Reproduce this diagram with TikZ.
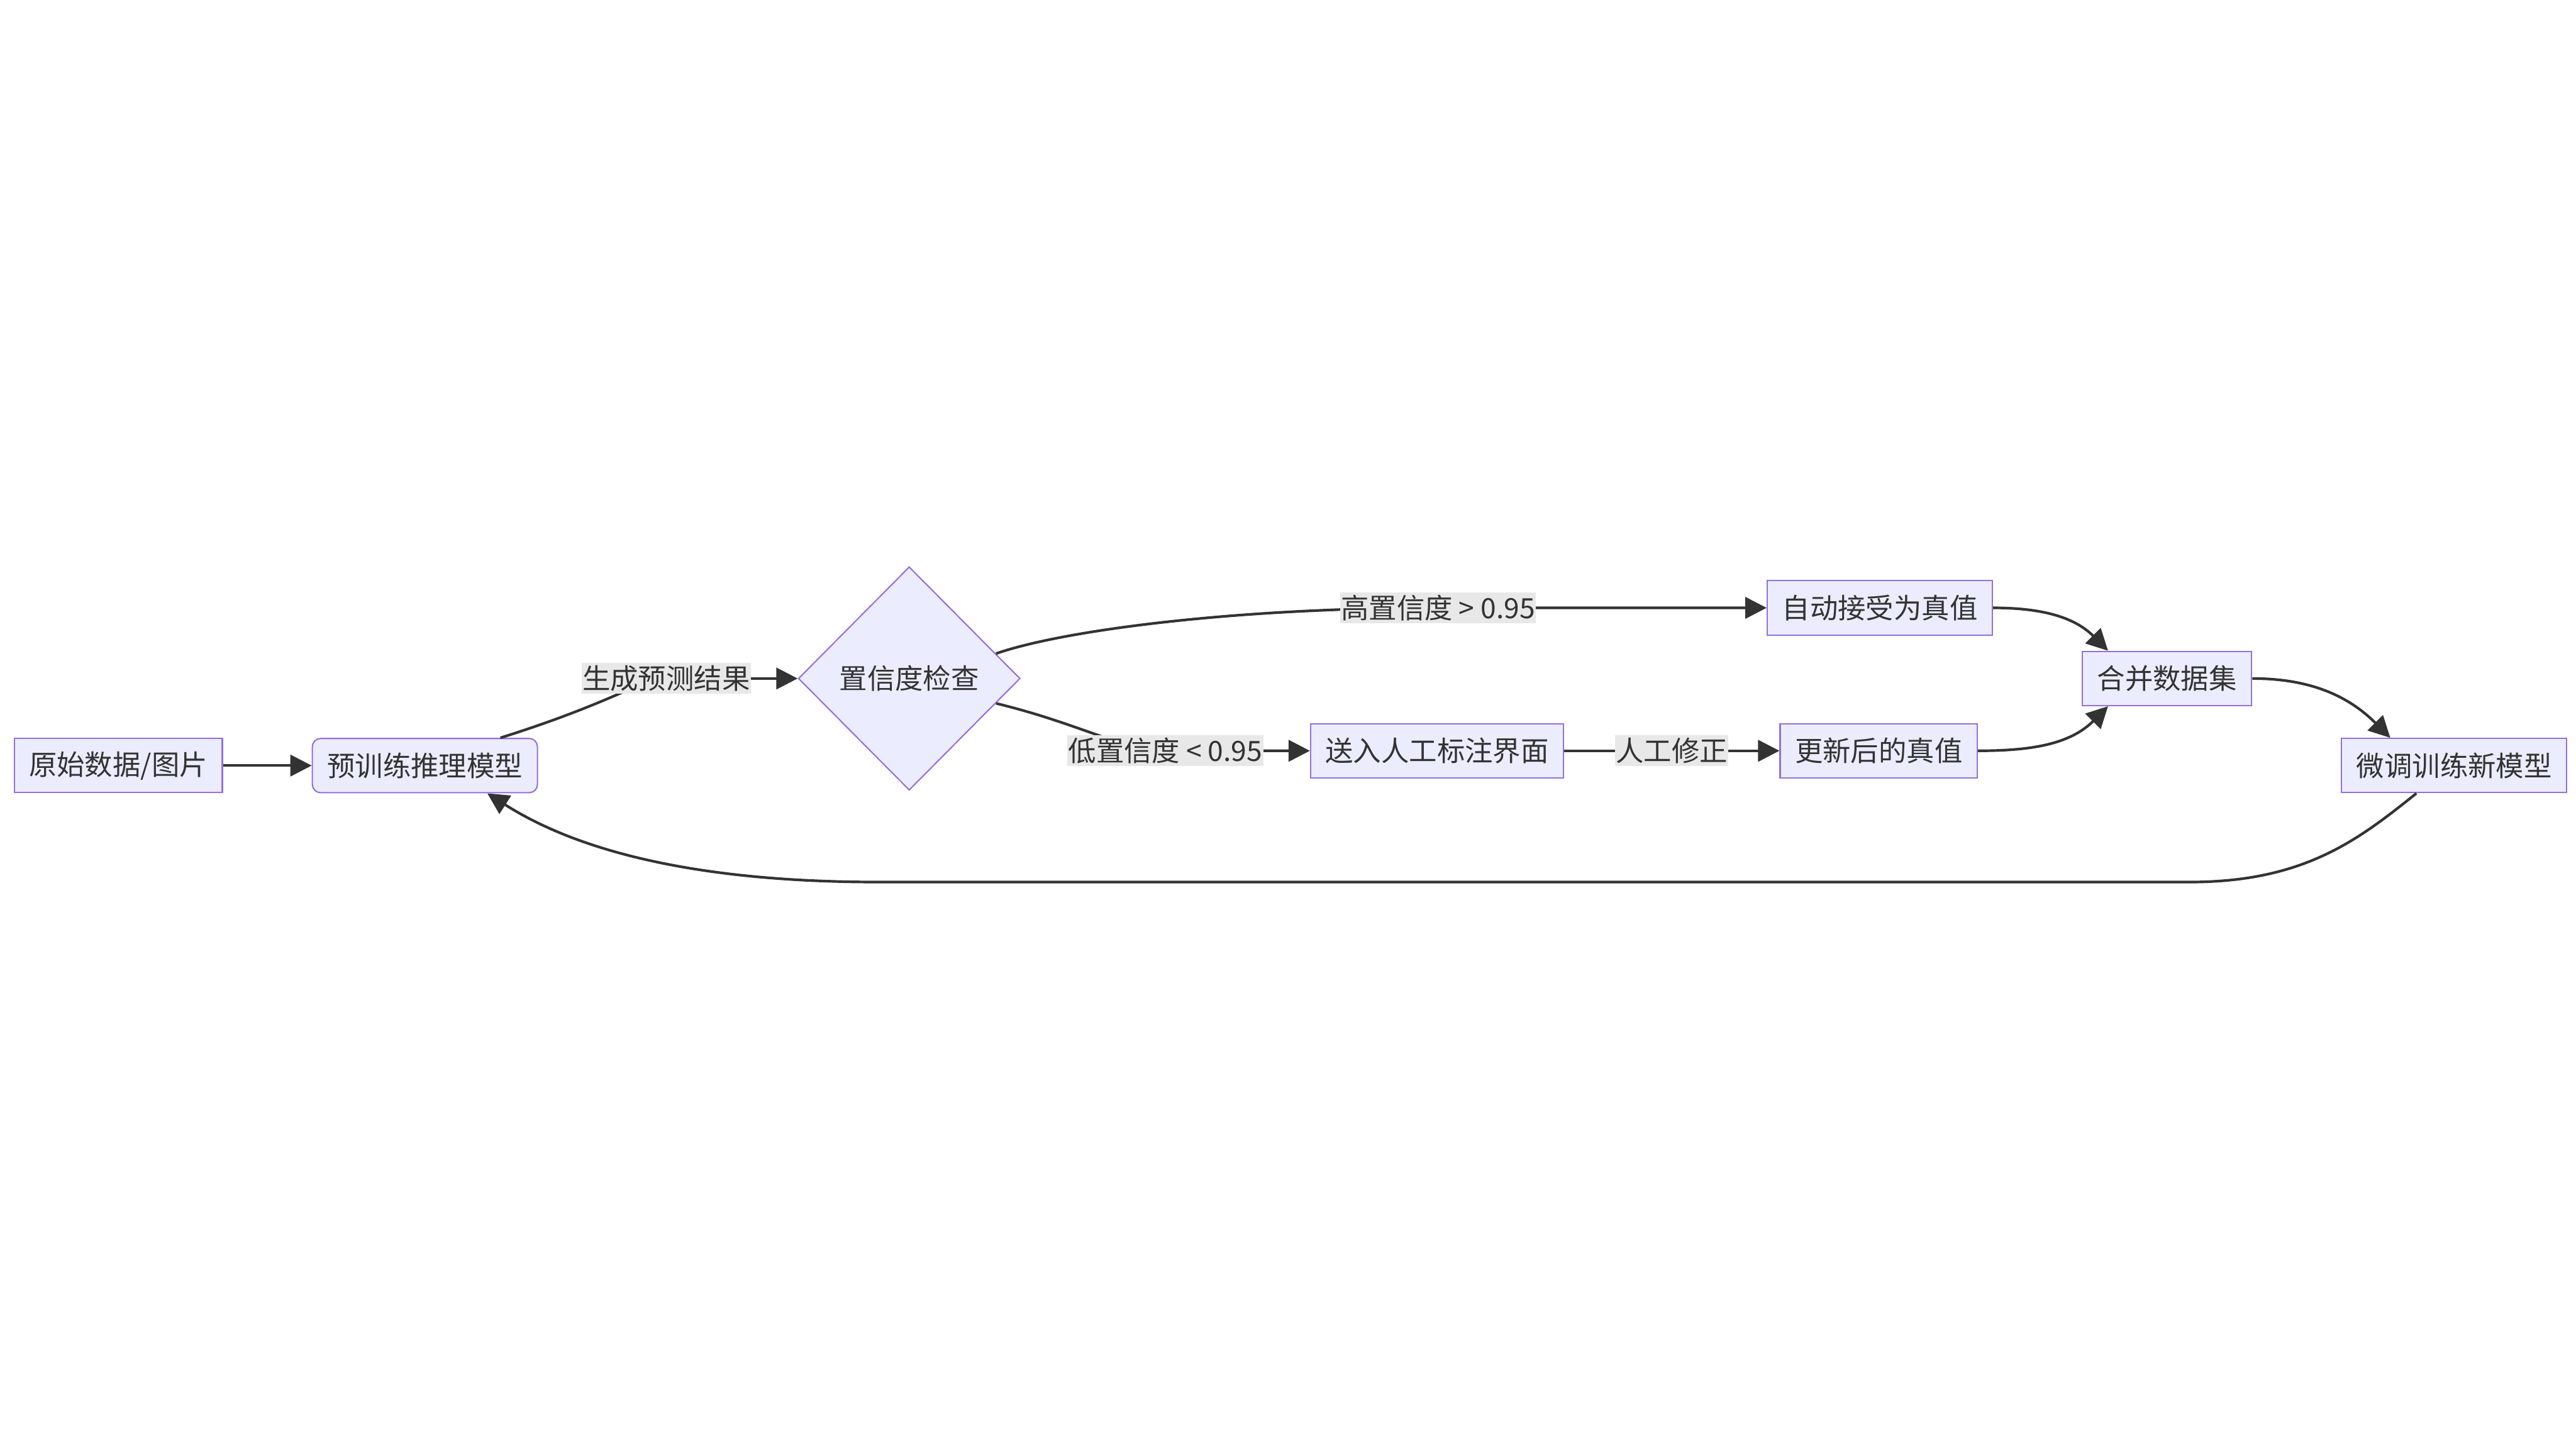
\documentclass[tikz,border=0pt]{standalone}
\usepackage{fontspec}
\setmainfont{Noto Sans CJK SC}
\usepackage{xcolor}
\usepackage{tikz}
\usetikzlibrary{shapes.geometric, arrows.meta, positioning}

\definecolor{boxfill}{HTML}{ECECFF}
\definecolor{boxline}{HTML}{9370DB}
\definecolor{edgeline}{HTML}{333333}
\definecolor{labelbg}{HTML}{E8E8E8}

\begin{document}
\begin{tikzpicture}[x=1pt, y=1pt,
        font=\fontsize{17pt}{20pt}\selectfont,
        every node/.style={text=edgeline},
        box/.style={draw=boxline, fill=boxfill, line width=0.8pt, minimum height=33pt, inner xsep=9pt},
        roundbox/.style={box, rounded corners=5pt},
        check/.style={diamond, draw=boxline, fill=boxfill, line width=0.8pt, minimum width=135pt, minimum height=136pt, inner sep=0pt},
        elabel/.style={fill=labelbg, inner xsep=0.5pt, inner ysep=1.5pt},
        flow/.style={color=edgeline, line width=1.6pt, -{Triangle[length=13pt,width=13pt]}}]

        \useasboundingbox (0,0) rectangle (1568,-882);

        \node[box] (A) at (72,-466) {原始数据/图片};
        \node[roundbox, right=54pt of A] (B) {预训练推理模型};
        \node[check, right=158pt of B, yshift=53pt] (C) {置信度检查};
        \node[box, right=454pt of C, yshift=43pt] (D) {自动接受为真值};
        \node[box, right=176pt of C, yshift=-44pt] (E) {送入人工标注界面};
        \node[box, right=131pt of E] (F) {更新后的真值};
        \node[box, right=54pt of D, yshift=-43pt] (G) {合并数据集};
        \node[box, right=54pt of G, yshift=-53pt] (H) {微调训练新模型};

        \path[flow]
        (A) edge (B)
        (E) edge node[elabel]{人工修正} (F)
        (D.east) edge[out=0, in=135] ([xshift=16pt]G.north west)
        (F.east) edge[out=0, in=-135] ([xshift=16pt]G.south west)
        (G.east) edge[out=0, in=135] ([xshift=30pt]H.north west);

        \draw[flow] ([xshift=46pt]B.north) .. controls +(70pt,22pt) and +(-15pt,0pt) .. ([xshift=-80pt]C.west) node[elabel]{生成预测结果} -- (C.west);
        \draw[flow] (C.16) .. controls +(40pt,14pt) and +(-125pt,0pt) .. ([xshift=-200pt]D.west) node[elabel]{高置信度 > 0.95} -- (D.west);
        \draw[flow] (C.344) .. controls +(50pt,-12pt) and +(-25pt,0pt) .. ([xshift=-88pt]E.west) node[elabel]{低置信度 < 0.95} -- (E.west);
        \draw[flow] ([xshift=-23pt]H.south) .. controls +(-35pt,-28pt) and +(70pt,0pt) .. ([xshift=-161pt,yshift=-54pt]H.south)
            -- ([xshift=276pt,yshift=-54pt]B.south) .. controls +(-105pt,0pt) and +(58pt,-37pt) .. ([xshift=38pt]B.south);
    \end{tikzpicture}
\end{document}
